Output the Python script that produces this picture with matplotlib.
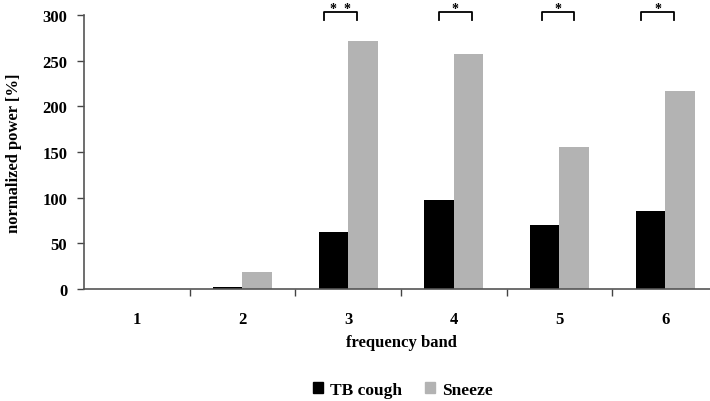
import numpy as np
import matplotlib
matplotlib.use('Agg')
from matplotlib import pyplot as plt
from matplotlib.patches import Patch

bands = ['1', '2', '3', '4', '5', '6']
tb_cough = [0, 2, 62, 97, 70, 85]
sneeze = [0, 19, 272, 257, 155, 217]
stars = ['', '', '* *', '*', '*', '*']

plt.rcParams['font.family'] = ['Liberation Serif', 'DejaVu Serif']
plt.rcParams['font.weight'] = 'bold'

my_dpi = 100
fig = plt.figure(figsize=(710/my_dpi, 402/my_dpi), dpi=my_dpi)
# axis runs past the right edge like in the original
ax = fig.add_axes([84/710, 112/402, 634/710, 274/402])

x = np.arange(len(bands))
w = 0.28
ax.bar(x - w/2, tb_cough, w, color='black', label='TB cough')
ax.bar(x + w/2, sneeze, w, color='#b3b3b3', label='Sneeze')

ax.set_xlim(-0.5, len(bands) - 0.5)
ax.set_ylim(0, 300)
ax.set_yticks([0, 50, 100, 150, 200, 250, 300])
ax.set_xticks(x)
ax.set_xticklabels(bands)
ax.set_xticks(x[:-1] + 0.5, minor=True)
ax.tick_params(axis='x', which='major', length=0, pad=16, labelsize=12)
ax.tick_params(axis='x', which='minor', length=5, width=1, color='#444444', direction='out')
ax.tick_params(axis='y', length=5, width=1, color='#444444', labelsize=12, pad=7)

for s in ['top', 'right']:
	ax.spines[s].set_visible(False)
for s in ['left', 'bottom']:
	ax.spines[s].set_color('#555555')
	ax.spines[s].set_linewidth(1.2)

ax.set_ylabel('normalized power [%]', fontsize=12, fontweight='bold')
ax.yaxis.set_label_coords(-0.098, 0.5)
ax.set_xlabel('frequency band', fontsize=12, fontweight='bold', labelpad=5)

# significance brackets (offsets from band centre, left/right)
br_off = [None, None, (-0.227, 0.085), (-0.14, 0.17), (-0.17, 0.14), (-0.227, 0.085)]
for i, st in enumerate(stars):
	if not st:
		continue
	l, r = br_off[i]
	xs = [i + l, i + l, i + r, i + r]
	ys = [294.5, 303, 303, 294.5]
	ax.plot(xs, ys, color='black', lw=1.3, clip_on=False)
	ax.text(i + (l + r)/2, 303.5, st.replace(' ', '  '), ha='center', va='baseline',
			fontsize=10, clip_on=False)

handles = [Patch(color='black', label='TB cough'), Patch(color='#b3b3b3', label='Sneeze')]
fig.legend(handles=handles, loc='center', bbox_to_anchor=(403/710, 1 - 391/402), ncol=2,
		   frameon=False, fontsize=12.5, handlelength=0.6, handleheight=0.6,
		   handletextpad=0.4, columnspacing=1.3)

plt.savefig('out.png', dpi=my_dpi)
